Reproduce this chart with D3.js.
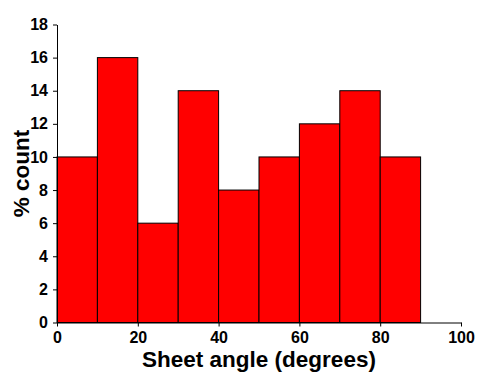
<!DOCTYPE html>
<html>
<head>
<meta charset="utf-8">
<script src="https://cdn.jsdelivr.net/npm/d3@7"></script>
<style>
  html, body { margin: 0; padding: 0; background: #fff; }
  svg { display: block; }
  .axis text { font-family: "Liberation Sans", Arial, sans-serif; font-weight: bold; font-size: 16px; fill: #000; }
  .axis path, .axis line { stroke: #000; stroke-width: 1; }
  .title { font-family: "Liberation Sans", Arial, sans-serif; font-weight: bold; font-size: 22.5px; fill: #000; }
</style>
</head>
<body>
<svg id="chart" width="478" height="372"></svg>
<script>
// Histogram bins (degrees) and percentage counts
const binStarts = [0, 10, 20, 30, 40, 50, 60, 70, 80];
const binWidth = 10;
const percents = [10, 16, 6, 14, 8, 10, 12, 14, 10];
const xTicks = [0, 20, 40, 60, 80, 100];
const yTicks = [0, 2, 4, 6, 8, 10, 12, 14, 16, 18];

const svg = d3.select("#chart");
const margin = { left: 57, right: 17, top: 24.5, bottom: 49.5 };
const W = 478, H = 372;

const x = d3.scaleLinear().domain([0, 100]).range([margin.left, W - margin.right]);
const y = d3.scaleLinear().domain([0, 18]).range([H - margin.bottom, margin.top]);

// Bars
svg.append("g")
  .selectAll("rect")
  .data(binStarts.map((s, i) => ({ s, v: percents[i] })))
  .join("rect")
  .attr("x", d => x(d.s))
  .attr("y", d => y(d.v))
  .attr("width", d => x(d.s + binWidth) - x(d.s))
  .attr("height", d => y(0) - y(d.v))
  .attr("fill", "#ff0000")
  .attr("stroke", "#000")
  .attr("stroke-width", 1);

// Axes
svg.append("g")
  .attr("class", "axis")
  .attr("transform", `translate(0,${y(0)})`)
  .call(d3.axisBottom(x).tickValues(xTicks).tickSize(4).tickPadding(5.5).tickSizeOuter(0));

svg.append("g")
  .attr("class", "axis")
  .attr("transform", `translate(${x(0)},0)`)
  .call(d3.axisLeft(y).tickValues(yTicks).tickSize(4).tickPadding(5).tickSizeOuter(0));

// Axis titles
svg.append("text")
  .attr("class", "title")
  .attr("x", (x(0) + x(100)) / 2)
  .attr("y", 366.5)
  .attr("text-anchor", "middle")
  .text("Sheet angle (degrees)");

svg.append("text")
  .attr("class", "title")
  .attr("transform", `translate(29,${(y(0) + y(18)) / 2}) rotate(-90)`)
  .attr("text-anchor", "middle")
  .text("% count");
</script>
</body>
</html>
